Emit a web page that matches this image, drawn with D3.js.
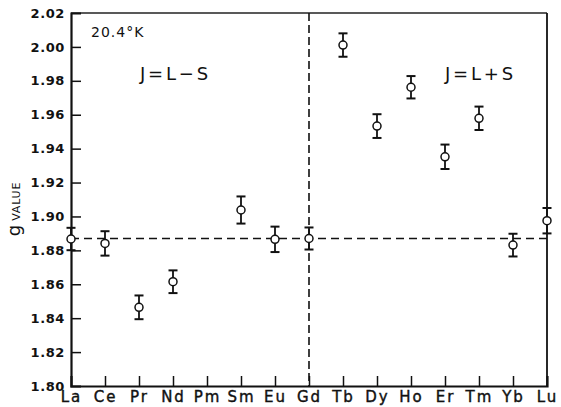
<!DOCTYPE html>
<html>
<head>
<meta charset="utf-8">
<script src="https://cdn.jsdelivr.net/npm/d3@7"></script>
<style>
  html, body { margin: 0; padding: 0; background: #fff; }
  svg { display: block; }
  text { font-family: "DejaVu Sans", "Liberation Sans", sans-serif; fill: #111; }
</style>
</head>
<body>
<svg id="chart" width="561" height="407"></svg>
<script>
// ---- data ----
const elements = ["La","Ce","Pr","Nd","Pm","Sm","Eu","Gd","Tb","Dy","Ho","Er","Tm","Yb","Lu"];
const gValues  = [1.8867, 1.8841, 1.8464, 1.8615, null, 1.9038, 1.8865, 1.8870, 2.0011, 1.9533, 1.9762, 1.9352, 1.9579, 1.8831, 1.8975];
const gErrors  = [0.0066, 0.0072, 0.0070, 0.0067, null, 0.0080, 0.0075, 0.0065, 0.0069, 0.0070, 0.0066, 0.0072, 0.0069, 0.0067, 0.0075];
const yTicks   = [1.80, 1.82, 1.84, 1.86, 1.88, 1.90, 1.92, 1.94, 1.96, 1.98, 2.00, 2.02];
const freeIonG = 1.887;   // horizontal dashed reference
const splitAt  = "Gd";    // vertical dashed divider
const labels   = { temp: "20.4°K", left: "J=L\u2212S", right: "J=L+S", yTitleBig: "g", yTitleSmall: "VALUE" };

// ---- layout ----
const svg = d3.select("#chart");
const L = 71, R = 547, T = 13, B = 386;

const x = d3.scalePoint().domain(elements).range([L, R]);
const y = d3.scaleLinear().domain([1.80, 2.02]).range([B, T]);

// frame (top and right)
svg.append("line").attr("x1", L).attr("x2", R).attr("y1", T).attr("y2", T)
  .attr("stroke", "#222").attr("stroke-width", 1.6);
svg.append("line").attr("x1", R).attr("x2", R).attr("y1", T).attr("y2", B)
  .attr("stroke", "#111").attr("stroke-width", 1.8);

// y axis
const yAxis = svg.append("g").attr("transform", `translate(${L},0)`)
  .call(d3.axisLeft(y).tickValues(yTicks).tickFormat(d3.format(".2f")).tickSize(-10).tickPadding(6));
yAxis.select(".domain").attr("stroke", "#111").attr("stroke-width", 2.2);
yAxis.selectAll(".tick line").attr("stroke", "#111").attr("stroke-width", 1.5);
yAxis.selectAll(".tick text").attr("font-size", 13).attr("letter-spacing", "0.6px")
  .attr("font-weight", "bold").attr("fill", "#111")
  .style("font-family", "'DejaVu Sans', sans-serif");
yAxis.selectAll(".tick").filter(d => d === 2.02 || d === 1.80).select("line").remove();

// x axis
const xAxis = svg.append("g").attr("transform", `translate(0,${B})`)
  .call(d3.axisBottom(x).tickSize(-10).tickPadding(5));
xAxis.select(".domain").attr("stroke", "#111").attr("stroke-width", 2.2);
xAxis.selectAll(".tick line").attr("stroke", "#111").attr("stroke-width", 1.5);
xAxis.selectAll(".tick text").attr("font-size", 15).attr("letter-spacing", "2px")
  .attr("fill", "#111").attr("stroke", "#111").attr("stroke-width", 0.4)
  .style("font-family", "'DejaVu Sans', sans-serif");
xAxis.selectAll(".tick").filter(d => d === "La" || d === "Lu").select("line").remove();

// dashed reference lines
svg.append("line").attr("x1", L).attr("x2", R).attr("y1", y(freeIonG)).attr("y2", y(freeIonG))
  .attr("stroke", "#111").attr("stroke-width", 1.6).attr("stroke-dasharray", "8,5");
svg.append("line").attr("x1", x(splitAt)).attr("x2", x(splitAt)).attr("y1", T).attr("y2", B)
  .attr("stroke", "#111").attr("stroke-width", 1.6).attr("stroke-dasharray", "8,4");

// data points with error bars
const pts = elements.map((e, i) => ({ e, v: gValues[i], err: gErrors[i] })).filter(d => d.v != null);
const g = svg.append("g");
const capW = 4.5;
g.selectAll(".eb").data(pts).enter().append("line")
  .attr("x1", d => x(d.e)).attr("x2", d => x(d.e))
  .attr("y1", d => y(d.v + d.err)).attr("y2", d => y(d.v - d.err))
  .attr("stroke", "#111").attr("stroke-width", 1.8);
g.selectAll(".capT").data(pts).enter().append("line")
  .attr("x1", d => x(d.e) - capW).attr("x2", d => x(d.e) + capW)
  .attr("y1", d => y(d.v + d.err)).attr("y2", d => y(d.v + d.err))
  .attr("stroke", "#111").attr("stroke-width", 2);
g.selectAll(".capB").data(pts).enter().append("line")
  .attr("x1", d => x(d.e) - capW).attr("x2", d => x(d.e) + capW)
  .attr("y1", d => y(d.v - d.err)).attr("y2", d => y(d.v - d.err))
  .attr("stroke", "#111").attr("stroke-width", 2);
g.selectAll("circle").data(pts).enter().append("circle")
  .attr("cx", d => x(d.e)).attr("cy", d => y(d.v)).attr("r", 4)
  .attr("fill", "#fff").attr("stroke", "#111").attr("stroke-width", 1.5);

// annotations
svg.append("text").attr("x", 91).attr("y", 37).attr("font-size", 14).attr("letter-spacing", "1px")
  .text(labels.temp);
svg.append("text").attr("x", 140).attr("y", 80).attr("font-size", 18).attr("letter-spacing", "2.8px")
  .text(labels.left);
svg.append("text").attr("x", 445).attr("y", 80).attr("font-size", 18).attr("letter-spacing", "2.8px")
  .text(labels.right);

// y title
const yt = svg.append("text").attr("transform", "translate(20,209) rotate(-90)").attr("text-anchor", "middle");
yt.append("tspan").attr("font-size", 18).text(labels.yTitleBig);
yt.append("tspan").attr("font-size", 11).attr("dx", 4).attr("letter-spacing", "0.8px").text(labels.yTitleSmall);
</script>
</body>
</html>
